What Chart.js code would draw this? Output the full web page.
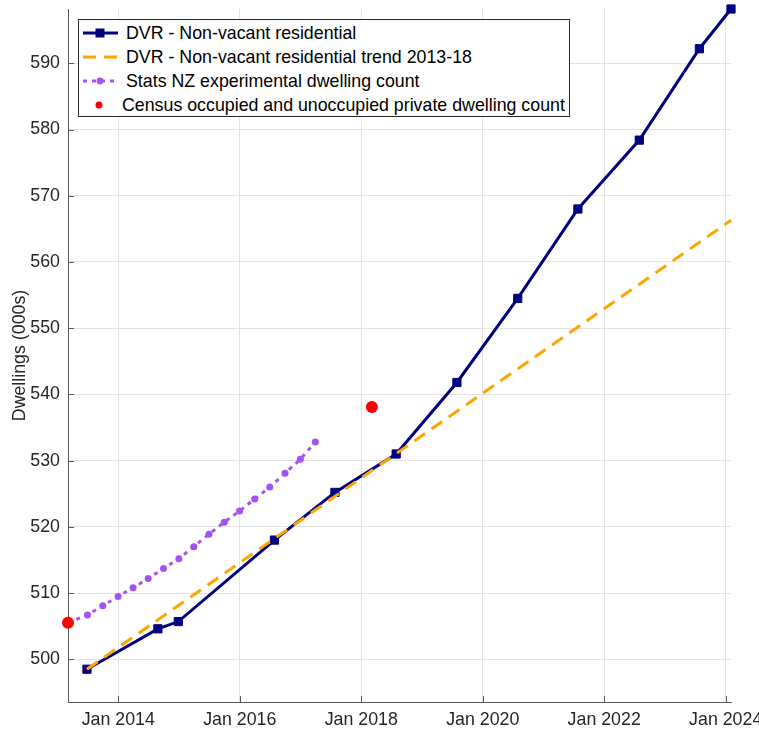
<!DOCTYPE html>
<html>
<head>
<meta charset="utf-8">
<script src="https://cdn.jsdelivr.net/npm/chart.js@4.4.1/dist/chart.umd.min.js"></script>
<style>
  html, body { margin: 0; padding: 0; background: #fff; }
  #wrap { position: relative; width: 759px; height: 729px; overflow: hidden; }
  canvas { display: block; }
  #legend {
    position: absolute; left: 78px; top: 19px; width: 492px; height: 98px;
    box-sizing: border-box; border: 1px solid #262626; background: #fff;
    font-family: "Liberation Sans", Arial, Helvetica, sans-serif; font-size: 17.8px; color: #000;
  }
  #legend .row { position: absolute; left: 0; height: 24px; width: 100%; }
  #legend svg { position: absolute; left: 3.7px; top: 0; }
  #legend span { position: absolute; top: 0; line-height: 24px; white-space: nowrap; }
</style>
</head>
<body>
<div id="wrap">
  <canvas id="c" width="759" height="729"></canvas>
  <div id="legend"></div>
</div>
<script>
// DVR non-vacant residential dwellings (000s)
const dvrDates = ['2013-06-27', '2014-08-27', '2014-12-28', '2016-07-28', '2017-07-27', '2018-07-30',
                  '2019-07-30', '2020-07-30', '2021-07-27', '2022-07-31', '2023-07-27', '2024-02-02'];
const dvrValues = [498.5, 504.6, 505.7, 518.0, 525.2, 531.0, 541.8, 554.5, 568.0, 578.4, 592.2, 598.2];

// Linear trend fitted to DVR 2013-18, extended to the latest DVR date
const trendDates = ['2013-06-27', '2024-02-02'];
const trendValues = [498.5, 566.3];

// Stats NZ experimental dwelling count, quarterly from the 2013 census
const statsDates = ['2013-03-05', '2013-06-30', '2013-09-30', '2013-12-31', '2014-03-31', '2014-06-30',
                    '2014-09-30', '2014-12-31', '2015-03-31', '2015-06-30', '2015-09-30', '2015-12-31',
                    '2016-03-31', '2016-06-30', '2016-09-30', '2016-12-31', '2017-03-31'];
const statsValues = [505.5, 506.7, 508.1, 509.5, 510.8, 512.2, 513.7, 515.2, 517.0, 518.9, 520.7,
                     522.4, 524.2, 526.0, 528.1, 530.2, 532.8];

// Census occupied and unoccupied private dwellings
const censusDates = ['2013-03-05', '2018-03-06'];
const censusValues = [505.5, 538.1];

// Axis ticks
const xTickYears = [2014, 2016, 2018, 2020, 2022, 2024];
const xTickLabels = ['Jan 2014', 'Jan 2016', 'Jan 2018', 'Jan 2020', 'Jan 2022', 'Jan 2024'];
const yTickValues = [500, 510, 520, 530, 540, 550, 560, 570, 580, 590];
const yAxisTitle = 'Dwellings (000s)';

// Convert an ISO date to a fractional year
function toYear(iso) {
  const [y, m, d] = iso.split('-').map(Number);
  const t = Date.UTC(y, m - 1, d);
  const a = Date.UTC(y, 0, 1), b = Date.UTC(y + 1, 0, 1);
  return y + (t - a) / (b - a);
}
function points(dates, values) {
  return dates.map((d, i) => ({ x: toYear(d), y: values[i] }));
}

const FONT = '"Liberation Sans", Arial, Helvetica, sans-serif';
const FSIZE = 17.8;
const NAVY = '#000080', ORANGE = '#ffa500', VIOLET = '#a452f2', RED = '#ff0000';

const datasets = [
  {
    label: 'DVR - Non-vacant residential',
    data: points(dvrDates, dvrValues),
    borderColor: NAVY, backgroundColor: NAVY, borderWidth: 3,
    pointStyle: 'rect', pointRadius: 5.8, pointBorderWidth: 1,
    order: 3, clip: false
  },
  {
    label: 'DVR - Non-vacant residential trend 2013-18',
    data: points(trendDates, trendValues),
    borderColor: ORANGE, backgroundColor: ORANGE, borderWidth: 3,
    borderDash: [13, 8], pointRadius: 0,
    order: 2, clip: false
  },
  {
    label: 'Stats NZ experimental dwelling count',
    data: points(statsDates, statsValues),
    borderColor: VIOLET, backgroundColor: VIOLET, borderWidth: 3,
    borderDash: [4, 5], pointStyle: 'circle', pointRadius: 3.5, pointBorderWidth: 0,
    order: 1, clip: false
  },
  {
    label: 'Census occupied and unoccupied private dwelling count',
    data: points(censusDates, censusValues),
    borderColor: RED, backgroundColor: RED, showLine: false,
    pointStyle: 'circle', pointRadius: 6, pointBorderWidth: 0,
    order: 0, clip: false
  }
];

// Short tick marks pointing into the plot area
const innerTicks = {
  id: 'innerTicks',
  beforeDatasetsDraw(chart) {
    const { ctx, chartArea: a, scales: { x, y } } = chart;
    ctx.save();
    ctx.strokeStyle = '#5a5a5a';
    ctx.lineWidth = 1;
    ctx.beginPath();
    x.ticks.forEach(t => {
      const px = Math.round(x.getPixelForValue(t.value)) + 0.5;
      ctx.moveTo(px, a.bottom); ctx.lineTo(px, a.bottom - 6);
    });
    y.ticks.forEach(t => {
      const py = Math.round(y.getPixelForValue(t.value)) + 0.5;
      ctx.moveTo(a.left, py); ctx.lineTo(a.left + 6, py);
    });
    ctx.stroke();
    ctx.restore();
  }
};

const chart = new Chart(document.getElementById('c'), {
  type: 'line',
  data: { datasets },
  plugins: [innerTicks],
  options: {
    responsive: false,
    animation: false,
    devicePixelRatio: 1,
    layout: { padding: { top: 9, right: 28, left: 0, bottom: 0 } },
    plugins: { legend: { display: false }, tooltip: { enabled: false } },
    elements: { line: { tension: 0 } },
    scales: {
      x: {
        type: 'linear',
        min: toYear(censusDates[0]),
        max: toYear(dvrDates[dvrDates.length - 1]),
        afterBuildTicks(s) { s.ticks = xTickYears.map(v => ({ value: v })); },
        afterFit(s) { s.height = 27; s.paddingLeft = 0; s.paddingRight = 0; },
        ticks: {
          autoSkip: false, maxRotation: 0, padding: 7,
          color: '#262626', font: { family: FONT, size: FSIZE },
          callback(v) { const i = xTickYears.indexOf(v); return i >= 0 ? xTickLabels[i] : ''; }
        },
        grid: { color: '#e3e3e3', lineWidth: 1, drawTicks: false },
        border: { color: '#5a5a5a', width: 1 }
      },
      y: {
        type: 'linear',
        min: 493.55,
        max: dvrValues[dvrValues.length - 1],
        afterBuildTicks(s) { s.ticks = yTickValues.map(v => ({ value: v })); },
        afterFit(s) { s.width = 68; s.paddingTop = 0; s.paddingBottom = 0; },
        ticks: {
          padding: 8, color: '#262626', font: { family: FONT, size: FSIZE },
          callback(v) { return String(v); }
        },
        grid: { color: '#e3e3e3', lineWidth: 1, drawTicks: false },
        border: { color: '#5a5a5a', width: 1 },
        title: {
          display: true, text: yAxisTitle, color: '#262626',
          font: { family: FONT, size: FSIZE }, padding: { top: 9, bottom: 0 }
        }
      }
    }
  }
});

// Legend box drawn over the upper-left of the plot, styled from the datasets
(function buildLegend() {
  const box = document.getElementById('legend');
  const NS = 'http://www.w3.org/2000/svg';
  datasets.forEach((ds, i) => {
    const row = document.createElement('div');
    row.className = 'row';
    row.style.top = (1 + 24 * i) + 'px';
    const svg = document.createElementNS(NS, 'svg');
    svg.setAttribute('width', '36'); svg.setAttribute('height', '24');
    const cx = 17;
    if (ds.showLine !== false) {
      const ln = document.createElementNS(NS, 'line');
      ln.setAttribute('x1', '0'); ln.setAttribute('x2', '35');
      ln.setAttribute('y1', '12'); ln.setAttribute('y2', '12');
      ln.setAttribute('stroke', ds.borderColor);
      ln.setAttribute('stroke-width', ds.borderWidth);
      if (ds.borderDash) ln.setAttribute('stroke-dasharray', ds.borderDash.join(' '));
      svg.appendChild(ln);
    }
    if (ds.pointRadius > 0) {
      let m;
      if (ds.pointStyle === 'rect') {
        m = document.createElementNS(NS, 'rect');
        m.setAttribute('x', cx - 4.5); m.setAttribute('y', 7.5);
        m.setAttribute('width', 9); m.setAttribute('height', 9);
      } else {
        m = document.createElementNS(NS, 'circle');
        m.setAttribute('cx', ds.showLine === false ? cx - 1 : cx);
        m.setAttribute('cy', 12);
        m.setAttribute('r', ds.showLine === false ? 3.5 : 3.4);
      }
      m.setAttribute('fill', ds.backgroundColor);
      svg.appendChild(m);
    }
    row.appendChild(svg);
    const sp = document.createElement('span');
    sp.textContent = ds.label;
    sp.style.left = (ds.showLine === false ? 43 : 47) + 'px';
    row.appendChild(sp);
    box.appendChild(row);
  });
})();
</script>
</body>
</html>
